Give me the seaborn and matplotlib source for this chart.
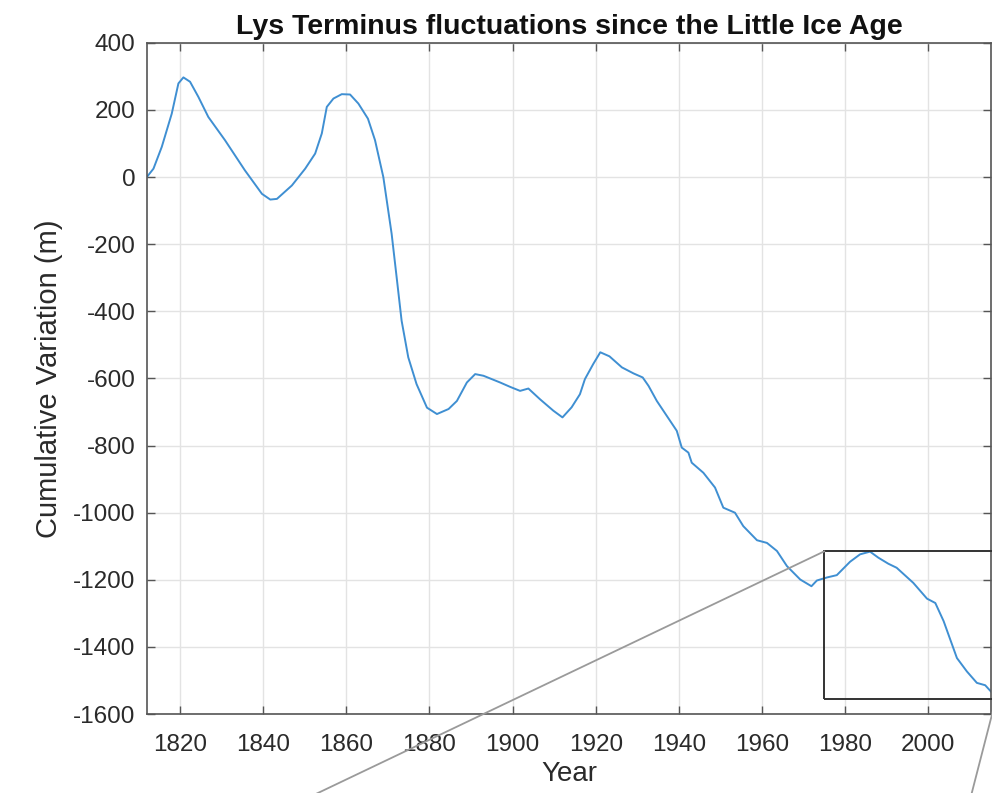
import matplotlib
matplotlib.use("Agg")
import matplotlib.pyplot as plt
import seaborn as sns
import pandas as pd
from matplotlib.patches import Rectangle, ConnectionPatch

# curve (year, cumulative variation in m)
years = [1812.0, 1813.6, 1815.6, 1818.0, 1819.6, 1820.8, 1822.4, 1824.4, 1826.8,
         1830.8, 1835.6, 1839.7, 1841.7, 1843.3, 1846.9, 1850.1, 1852.5, 1854.1,
         1855.3, 1856.9, 1858.9, 1860.9, 1862.9, 1865.2, 1866.9, 1868.9, 1870.9,
         1872.1, 1873.3, 1874.9, 1876.9, 1879.4, 1881.8, 1884.6, 1886.6, 1889.0,
         1891.0, 1893.0, 1897.0, 1899.4, 1901.8, 1903.8, 1906.6, 1909.8, 1912.0,
         1914.2, 1916.2, 1917.4, 1919.4, 1921.1, 1923.3, 1926.3, 1929.1, 1931.3,
         1932.7, 1934.7, 1939.5, 1940.7, 1942.3, 1943.1, 1945.9, 1948.7, 1950.7,
         1953.5, 1955.5, 1958.8, 1961.2, 1963.6, 1966.0, 1969.2, 1971.9, 1973.2,
         1975.6, 1978.0, 1981.2, 1983.6, 1986.0, 1988.0, 1990.4, 1992.4, 1996.4,
         1999.7, 2001.7, 2003.7, 2006.9, 2009.3, 2011.7, 2013.7, 2015.4]
variation = [0, 25, 90, 189, 279, 297, 284, 239, 179,
             110, 20, -50, -67, -65, -25, 25, 70, 130,
             209, 234, 247, 246, 219, 174, 110, 0, -169,
             -298, -428, -537, -617, -687, -706, -691, -667, -612,
             -587, -592, -612, -625, -637, -630, -662, -696, -716,
             -686, -647, -602, -557, -522, -534, -567, -585, -597,
             -622, -667, -756, -806, -821, -851, -881, -925, -985,
             -1000, -1040, -1082, -1090, -1114, -1159, -1199, -1219, -1202,
             -1193, -1186, -1146, -1124, -1116, -1134, -1152, -1164, -1209,
             -1256, -1269, -1323, -1433, -1473, -1507, -1514, -1537]

# zoom box drawn over the recent part of the record
box_years = [1975, 2016.3]
box_values = [-1555, -1115]

df = pd.DataFrame({"Year": years, "Variation": variation})

sns.set_theme(style="whitegrid")
plt.rcParams["font.family"] = ["Liberation Sans", "DejaVu Sans"]
plt.rcParams["axes.unicode_minus"] = False

fig = plt.figure(figsize=(9.92, 7.93), dpi=100)
ax = fig.add_axes([0.148, 0.0995, 0.851, 0.8465])

sns.lineplot(data=df, x="Year", y="Variation", ax=ax, color="#3f8fd2",
             linewidth=1.4, estimator=None, sort=False)

ax.set_xlim(1812, 2015.1)
ax.set_ylim(-1600, 400)
ax.set_xticks(range(1820, 2001, 20))
ax.set_yticks(range(-1600, 401, 200))

ax.set_facecolor("white")
ax.grid(True, color="#e3e3e3", linewidth=1.0)
for side in ["left", "right", "top", "bottom"]:
    ax.spines[side].set_visible(True)
    ax.spines[side].set_color("#555555")
    ax.spines[side].set_linewidth(1.2)
ax.tick_params(direction="in", length=6, width=1.0, color="#555555",
               labelsize=17.5, labelcolor="#2a2a2a", top=True, right=True,
               bottom=True, left=True)
ax.tick_params(axis="x", pad=14)
ax.tick_params(axis="y", pad=8)

ax.set_xlabel("Year", fontsize=20, color="#2a2a2a", labelpad=4)
ax.set_ylabel("Cumulative Variation (m)", fontsize=21, color="#2a2a2a", labelpad=7)
ax.set_title("Lys Terminus fluctuations since the Little Ice Age",
             fontsize=20.5, fontweight="bold", color="#111111", pad=6)

# zoom rectangle and connector lines to the (cropped) inset below
rect = Rectangle((box_years[0], box_values[0]), box_years[1] - box_years[0],
                 box_values[1] - box_values[0], fill=False, edgecolor="#333333",
                 linewidth=1.4, clip_on=False, zorder=4)
ax.add_patch(rect)

con1 = ConnectionPatch(xyA=(box_years[0], box_values[1]), coordsA=ax.transData,
                       xyB=(0.153, -0.1), coordsB=fig.transFigure,
                       color="#9a9a9a", linewidth=1.3)
con2 = ConnectionPatch(xyA=(box_years[1], box_values[0]), coordsA=ax.transData,
                       xyB=(0.959, -0.1), coordsB=fig.transFigure,
                       color="#9a9a9a", linewidth=1.3)
fig.add_artist(con1)
fig.add_artist(con2)

fig.savefig("out.png", dpi=100)
